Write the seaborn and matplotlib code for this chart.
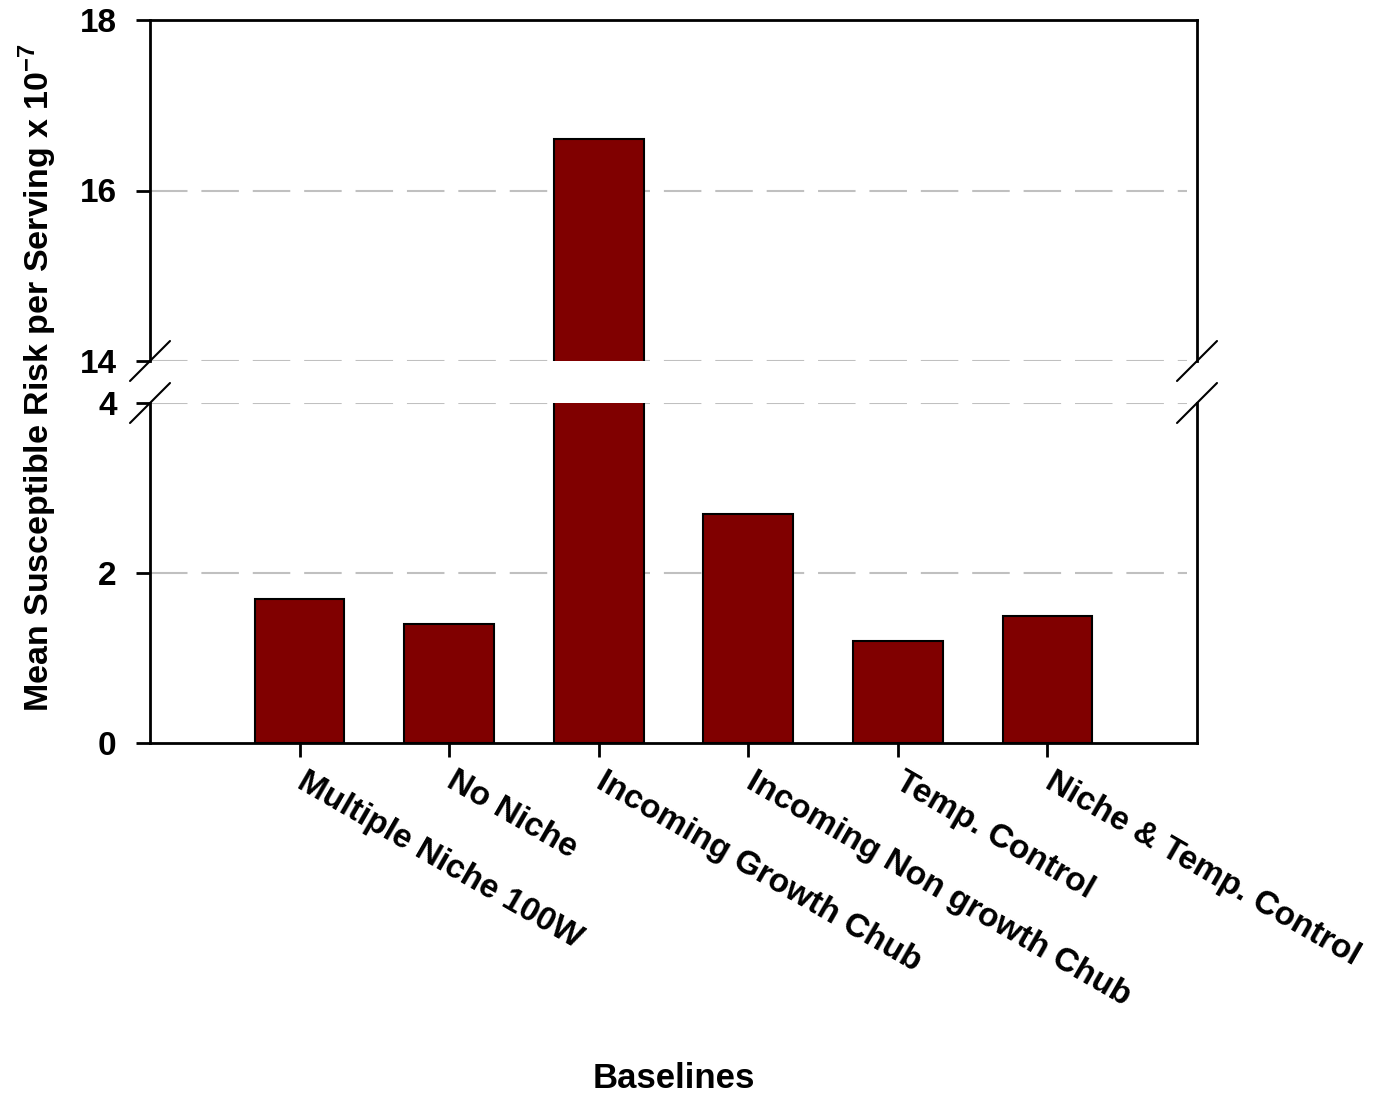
import matplotlib
matplotlib.use("Agg")
import matplotlib.pyplot as plt
import seaborn as sns
import pandas as pd

# Baseline scenarios and their mean susceptible risk per serving (x 1e-7)
categories = ["Multiple Niche 100W", "No Niche", "Incoming Growth Chub",
              "Incoming Non growth Chub", "Temp. Control", "Niche & Temp. Control"]
risk = [1.7, 1.4, 16.6, 2.7, 1.2, 1.5]
lower_ticks = [0, 2, 4]
upper_ticks = [14, 16, 18]

df = pd.DataFrame({"Baseline": categories, "Risk": risk})

sns.set_theme(style="white")
plt.rcParams["font.family"] = ["Liberation Sans", "DejaVu Sans"]
plt.rcParams["font.weight"] = "bold"
plt.rcParams["text.color"] = "black"
plt.rcParams["xtick.color"] = "black"
plt.rcParams["ytick.color"] = "black"
plt.rcParams["mathtext.fontset"] = "custom"
plt.rcParams["mathtext.rm"] = "Liberation Sans:bold"
plt.rcParams["mathtext.bf"] = "Liberation Sans:bold"
plt.rcParams["lines.scale_dashes"] = False

W, H = 1387, 1095
fig = plt.figure(figsize=(W / 100, H / 100), dpi=100)
left, right = 150, 1197
ax_up = fig.add_axes([left / W, 1 - 361 / H, (right - left) / W, (361 - 20) / H])
ax_lo = fig.add_axes([left / W, 1 - 743 / H, (right - left) / W, (743 - 403) / H])

bar_color = "#800000"
for ax in (ax_up, ax_lo):
    sns.barplot(data=df, x="Baseline", y="Risk", ax=ax, color=bar_color,
                saturation=1, width=0.6, edgecolor="black", linewidth=1.5)
    ax.set_xlim(-1, 6)
    ax.set_xlabel("")
    ax.set_ylabel("")
    for s in ax.spines.values():
        s.set_color("black")
        s.set_linewidth(2)
    ax.tick_params(axis="both", direction="out", length=10, width=2,
                   color="black", labelcolor="black", labelsize=24,
                   left=True, bottom=True)
    ax.tick_params(axis="y", pad=14)
    ax.tick_params(axis="x", pad=16)
    ax.set_axisbelow(True)
    ax.grid(False)

ax_up.set_ylim(14, 18)
ax_lo.set_ylim(0, 4)
ax_up.set_yticks(upper_ticks)
ax_lo.set_yticks(lower_ticks)

grid_kw = dict(color="#c0c0c0", linewidth=1.5, linestyle=(0, (27, 10)),
               zorder=0, xmax=0.99)
for y in (14, 16):
    ax_up.axhline(y, **grid_kw)
for y in (2, 4):
    ax_lo.axhline(y, **grid_kw)

ax_up.spines["bottom"].set_visible(False)
ax_up.tick_params(axis="x", bottom=False, labelbottom=False)
ax_lo.spines["top"].set_visible(False)

ax_lo.set_xticks(range(len(categories)))
ax_lo.set_xticklabels(categories, rotation=-30, ha="left", va="center",
                      rotation_mode="anchor", fontweight="bold")
for lab in ax_up.get_yticklabels() + ax_lo.get_yticklabels():
    lab.set_fontweight("bold")

# Axis-break marks on both vertical spines
for ax, y0 in ((ax_up, 0), (ax_lo, 1)):
    bb = ax.get_position()
    dx = 20 / (bb.width * W)
    dy = 20 / (bb.height * H)
    for x0 in (0, 1):
        ax.plot([x0 - dx, x0 + dx], [y0 - dy, y0 + dy], transform=ax.transAxes,
                color="black", linewidth=1.5, clip_on=False)

fig.text(38 / W, 1 - 378 / H,
         r"Mean Susceptible Risk per Serving x 10$^{\mathbf{-7}}$",
         rotation=90, ha="center", va="center", fontsize=24.5, fontweight="bold")
fig.text((left + right) / 2 / W, 1 - 1078 / H, "Baselines",
         ha="center", va="center", fontsize=25, fontweight="bold")

fig.savefig("out.png", dpi=100)
